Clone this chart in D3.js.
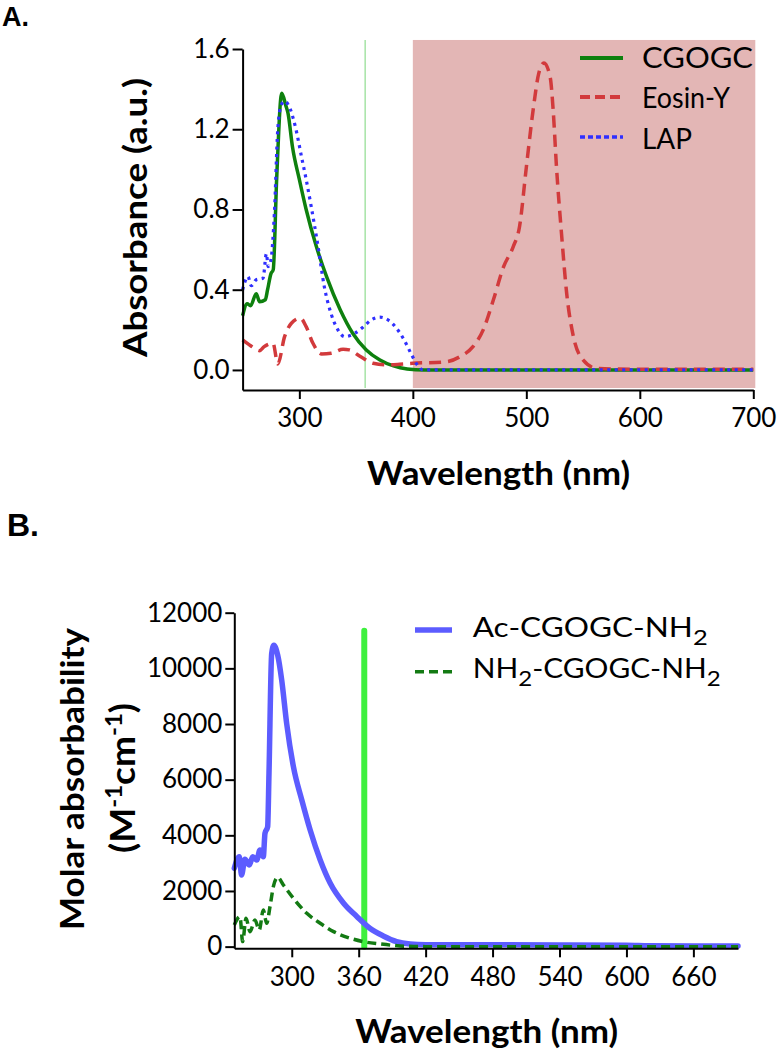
<!DOCTYPE html>
<html><head><meta charset="utf-8">
<script src="https://cdn.jsdelivr.net/npm/d3@7"></script>
<style>
html,body{margin:0;padding:0;background:#fff;}
svg{display:block;}
.tick text{font-family:Lato,"Open Sans",sans-serif;font-size:26px;fill:#000;}
</style></head>
<body>
<svg id="chart" width="778" height="1050"></svg>
<script>
// ---------- Panel A data ----------
const aXTicks = [300, 400, 500, 600, 700];
const aYTicks = [0.0, 0.4, 0.8, 1.2, 1.6];
const aSeriesNames = ["CGOGC", "Eosin-Y", "LAP"];

const cgogcNm  = [250,254,257,262,265,270,272,275,277,280,284.5,288,290,294,300,306,315,324,336,347,359,371,383,395,410,450,500,550,600,650,700];
const cgogcAbs = [0.27,0.33,0.32,0.38,0.34,0.35,0.40,0.48,0.50,0.95,1.38,1.32,1.28,1.11,0.95,0.80,0.615,0.465,0.30,0.183,0.10,0.05,0.02,0.005,0,0,0,0,0,0,0];

const eosinNm  = [250,256,260.6,265,269,276.8,281,287,293,301,306,312,319.6,328,338.5,344,353,365,377,388.5,400,429.5,441.5,453,462,471,480,488.5,494,500,506,511,515.5,521,523.6,526.6,531,535.6,541.5,550,562,600,650,700];
const eosinAbs = [0.15,0.125,0.108,0.096,0.116,0.133,0.03,0.166,0.233,0.258,0.216,0.133,0.08,0.083,0.103,0.10,0.07,0.033,0.025,0.028,0.033,0.041,0.066,0.116,0.20,0.35,0.515,0.615,0.714,1.01,1.296,1.48,1.53,1.46,1.30,1.01,0.68,0.38,0.166,0.05,0.008,0.003,0.003,0.003];

const lapNm  = [250,254.7,257.7,262,268,271,272.5,275,278,281,284,287,292,297,302,306,310.6,316.5,322,328,334,340,349,356,363.5,371,379,385.6,391.5,399,403,409,450,500,550,600,650,700];
const lapAbs = [0.40,0.465,0.42,0.45,0.457,0.58,0.515,0.55,0.78,1.20,1.32,1.34,1.30,1.20,1.06,0.95,0.81,0.615,0.415,0.28,0.20,0.166,0.183,0.213,0.25,0.263,0.246,0.208,0.158,0.075,0.033,0,0,0,0,0,0,0];

const aBand = [400, 700];        // shaded visible range
const aBandY = [-0.09, 1.645];
const aMarkerNm = 358;           // thin vertical line

// ---------- Panel B data ----------
const bXTicks = [300, 360, 420, 480, 540, 600, 660];
const bYTicks = [0, 2000, 4000, 6000, 8000, 10000, 12000];

const acNm  = [248.5,253,255,258,262,265,268.6,271.5,274.5,276,278.4,279.6,282,284,287.4,291,295.5,301.5,309,316.5,325.5,334.5,346.5,358.5,370,382,394,406,420,480,540,600,620,660,700];
const acEps = [2815,3232,2575,3138,2934,3232,3113,3472,3232,4070,4309,6224,10533,10833,10474,9576,8000,6463,5267,4190,3113,2276,1558,1077,661,384,180,97,70,65,60,50,30,20,20];

const nh2Nm  = [248.5,253.6,256,259,262.6,267,270.9,274.5,277.5,280.5,283.5,287.4,292.5,301.5,313.5,325.5,337.5,352.5,364,379,397,420,480,540,600,700];
const nh2Eps = [779,1077,180,1018,539,958,600,1318,838,1436,2154,2490,2215,1736,1197,838,539,300,180,97,25,0,0,0,0,0];

const bMarkerNm = 365;
const bMarkerTop = 11350;

// ---------- drawing ----------
const svg = d3.select("#chart");
const FONT = 'Lato, "Open Sans", sans-serif';
const BOLD = 'Lato, "Open Sans", sans-serif';

function zip(xs, ys){ return xs.map((x,i)=>({x, y: ys[i]})); }

function styleAxis(g){
  g.selectAll("path.domain").attr("stroke","#000").attr("stroke-width",2);
  g.selectAll(".tick line").attr("stroke","#000").attr("stroke-width",2);
}

function fitText(sel, len){
  sel.attr("textLength", len).attr("lengthAdjust","spacingAndGlyphs");
}

// panel letters
svg.append("text").attr("x",2).attr("y",26).text("A.")
  .attr("font-family",'"Liberation Sans", Arial, sans-serif').attr("font-weight",700).attr("font-size",27);
svg.append("text").attr("x",7).attr("y",536).text("B.")
  .attr("font-family",'"Liberation Sans", Arial, sans-serif').attr("font-weight",700).attr("font-size",32);

// ===== Panel A =====
const xA = d3.scaleLinear().domain([250,700]).range([242.6,753.3]);
const yA = d3.scaleLinear().domain([-0.1,1.6]).range([390,49]);

const gA = svg.append("g");
gA.append("rect")
  .attr("x", xA(aBand[0])).attr("width", xA(aBand[1]) - xA(aBand[0]) + 2)
  .attr("y", yA(aBandY[1])).attr("height", yA(aBandY[0]) - yA(aBandY[1]))
  .attr("fill","#e3b6b5");
gA.append("line")
  .attr("x1", xA(aMarkerNm)).attr("x2", xA(aMarkerNm))
  .attr("y1", yA(aBandY[1])).attr("y2", yA(aBandY[0]))
  .attr("stroke","#a6e3a6").attr("stroke-width",1.5);

const lineA = d3.line().x(d=>xA(d.x)).y(d=>yA(d.y)).curve(d3.curveMonotoneX);
gA.append("path").datum(zip(cgogcNm,cgogcAbs)).attr("d",lineA)
  .attr("fill","none").attr("stroke","#0e800e").attr("stroke-width",3.5).attr("stroke-linejoin","round");
gA.append("path").datum(zip(eosinNm,eosinAbs)).attr("d",lineA)
  .attr("fill","none").attr("stroke","#d23a3c").attr("stroke-width",3.5).attr("stroke-dasharray","12,7");
gA.append("path").datum(zip(lapNm,lapAbs)).attr("d",lineA)
  .attr("fill","none").attr("stroke","#2f2fff").attr("stroke-width",3.2).attr("stroke-dasharray","3,4.5");

const axAx = gA.append("g").attr("transform","translate(0,390)")
  .call(d3.axisBottom(xA).tickValues(aXTicks).tickSize(9).tickSizeOuter(0).tickPadding(10).tickFormat(d3.format("d")));
styleAxis(axAx);
const axAy = gA.append("g").attr("transform","translate(242.6,0)")
  .call(d3.axisLeft(yA).tickValues(aYTicks).tickSize(10).tickSizeOuter(0).tickPadding(3).tickFormat(d3.format(".1f")));
styleAxis(axAy);

gA.append("text").attr("x",498.5).attr("y",485).attr("text-anchor","middle")
  .attr("font-family",BOLD).attr("font-weight",700).attr("font-size",32).text("Wavelength (nm)")
  .call(fitText,263);
gA.append("text").attr("transform","translate(147,217.5) rotate(-90)").attr("text-anchor","middle")
  .attr("font-family",BOLD).attr("font-weight",700).attr("font-size",32).text("Absorbance (a.u.)")
  .call(fitText,279);

// legend A
const legA = [
  {name: aSeriesNames[0], y: 58,  color:"#0e800e", dash:null,   w:4,   tw:111, ty:68.3},
  {name: aSeriesNames[1], y: 97,  color:"#d23a3c", dash:"10,5", w:4,   tw:88,  ty:108.3},
  {name: aSeriesNames[2], y: 137, color:"#2f2fff", dash:"5,3",  w:3.5, tw:50,  ty:149.3}
];
legA.forEach(l=>{
  gA.append("line").attr("x1",580).attr("x2",623).attr("y1",l.y).attr("y2",l.y)
    .attr("stroke",l.color).attr("stroke-width",l.w).attr("stroke-dasharray",l.dash);
  gA.append("text").attr("x",642).attr("y",l.ty).attr("font-family",FONT).attr("font-size",28)
    .text(l.name).call(fitText,l.tw);
});

// ===== Panel B =====
const xB = d3.scaleLinear().domain([248.5,700]).range([234.3,738]);
const yB = d3.scaleLinear().domain([-60,12000]).range([948.3,612.7]);
const gB = svg.append("g");

gB.append("line")
  .attr("x1", xB(bMarkerNm)).attr("x2", xB(bMarkerNm))
  .attr("y1", yB(bMarkerTop)).attr("y2", yB(0))
  .attr("stroke","#3ef03e").attr("stroke-width",6).attr("stroke-linecap","round");

const lineB = d3.line().x(d=>xB(d.x)).y(d=>yB(d.y)).curve(d3.curveMonotoneX);
gB.append("path").datum(zip(acNm,acEps)).attr("d",lineB)
  .attr("fill","none").attr("stroke","#5c5cff").attr("stroke-width",5.5)
  .attr("stroke-linejoin","round").attr("stroke-linecap","round");
gB.append("path").datum(zip(nh2Nm,nh2Eps)).attr("d",lineB)
  .attr("fill","none").attr("stroke","#137a13").attr("stroke-width",3.5).attr("stroke-dasharray","9,5");

const axBx = gB.append("g").attr("transform","translate(0,948.3)")
  .call(d3.axisBottom(xB).tickValues(bXTicks).tickSize(9).tickSizeOuter(0).tickPadding(10).tickFormat(d3.format("d")));
styleAxis(axBx);
const axBy = gB.append("g").attr("transform","translate(234.3,0)")
  .call(d3.axisLeft(yB).tickValues(bYTicks).tickSize(9).tickSizeOuter(0).tickPadding(3).tickFormat(d3.format("d")));
styleAxis(axBy);

gB.append("text").attr("x",486.7).attr("y",1043).attr("text-anchor","middle")
  .attr("font-family",BOLD).attr("font-weight",700).attr("font-size",32).text("Wavelength (nm)")
  .call(fitText,263);
gB.append("text").attr("transform","translate(83.5,779) rotate(-90)").attr("text-anchor","middle")
  .attr("font-family",BOLD).attr("font-weight",700).attr("font-size",32).text("Molar absorbability")
  .call(fitText,302);
const t2 = gB.append("text").attr("transform","translate(135,778) rotate(-90)").attr("text-anchor","middle")
  .attr("font-family",BOLD).attr("font-weight",700).attr("font-size",34);
t2.append("tspan").text("(M");
t2.append("tspan").attr("dy",-13).attr("font-size",22).text("-1");
t2.append("tspan").attr("dy",13).text("cm");
t2.append("tspan").attr("dy",-13).attr("font-size",22).text("-1");
t2.append("tspan").attr("dy",13).text(")");
t2.call(fitText,150);

// legend B
const legB = [
  {parts:[["Ac-CGOGC-NH",0],["2",1]], y:630, color:"#5c5cff", dash:null, w:5.5, ty:636.7, tw:235},
  {parts:[["NH",0],["2",1],["-CGOGC-NH",0],["2",1]], y:671.7, color:"#137a13", dash:"9,5", w:3.5, ty:678.3, tw:248}
];
legB.forEach(l=>{
  gB.append("line").attr("x1",415).attr("x2",452).attr("y1",l.y).attr("y2",l.y)
    .attr("stroke",l.color).attr("stroke-width",l.w).attr("stroke-dasharray",l.dash);
  const t = gB.append("text").attr("x",472.7).attr("y",l.ty).attr("font-family",FONT).attr("font-size",26);
  let sub = false;
  l.parts.forEach(([s,isSub])=>{
    const dy = isSub && !sub ? 8 : (!isSub && sub ? -8 : 0);
    t.append("tspan").attr("dy",dy).attr("font-size", isSub?21:26).text(s);
    sub = !!isSub;
  });
  t.call(fitText,l.tw);
});
</script>
</body></html>
